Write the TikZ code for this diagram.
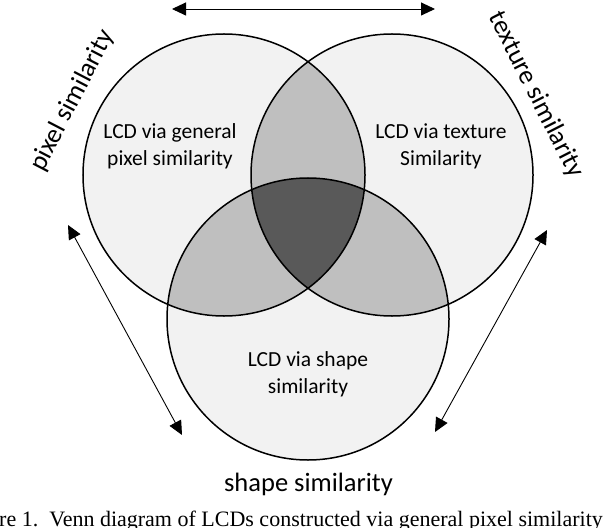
\documentclass[tikz,border=0pt]{standalone}
\usepackage{fontspec}
\setmainfont{Carlito}
\newfontfamily\capfont{Liberation Serif}
\usetikzlibrary{arrows.meta}
\definecolor{vlight}{HTML}{F2F2F2}
\definecolor{vmid}{HTML}{BFBFBF}
\definecolor{vdark}{HTML}{595959}
\begin{document}
\begin{tikzpicture}[x=1bp,y=-1bp,
  venn/.style={circle, minimum size=282bp, inner sep=0pt, draw=black, line width=1.5bp},
  inlabel/.style={align=center, inner sep=0pt, font=\fontsize{21.5bp}{27bp}\selectfont},
  outlabel/.style={inner sep=0pt, font=\fontsize{26.5bp}{30bp}\selectfont},
  dbl/.style={{Triangle[length=14bp,width=13bp]}-{Triangle[length=14bp,width=13bp]}, line width=0.9bp}]
\clip (0,0) rectangle (612,528);
\coordinate (cL) at (224,175);
\coordinate (cR) at (392,175);
\coordinate (cB) at (308,319);
% base fills
\fill[vlight] (cL) circle[radius=141bp];
\fill[vlight] (cR) circle[radius=141bp];
\fill[vlight] (cB) circle[radius=141bp];
% pairwise
\begin{scope}
  \clip (cL) circle[radius=141bp];
  \fill[vmid] (cR) circle[radius=141bp];
  \fill[vmid] (cB) circle[radius=141bp];
\end{scope}
\begin{scope}
  \clip (cR) circle[radius=141bp];
  \fill[vmid] (cB) circle[radius=141bp];
\end{scope}
% triple
\begin{scope}
  \clip (cL) circle[radius=141bp];
  \clip (cR) circle[radius=141bp];
  \fill[vdark] (cB) circle[radius=141bp];
\end{scope}
% outlines
\node[venn] (L) at (cL) {};
\node[venn] (R) at (cR) {};
\node[venn] (B) at (cB) {};
% inner labels
\node[inlabel] (tL) at (170,146) {LCD via general\\pixel similarity};
\node[inlabel] (tR) at (441,146) {LCD via texture\\Similarity};
\node[inlabel] (tB) at (308,374) {LCD via shape\\similarity};
% outer labels
\node[outlabel, rotate=62.6] (oL) at (72.5,100.5) {pixel similarity};
\node[outlabel, rotate=-63] (oR) at (536,95) {texture similarity};
\node[outlabel] (oB) at (308.5,484.5) {shape similarity};
% arrows
\coordinate (t1) at (172,9);
\coordinate (t2) at (435,9);
\coordinate (l1) at (68,225);
\coordinate (l2) at (182,435);
\coordinate (r1) at (547,230);
\coordinate (r2) at (435,432);
\draw[dbl] (t1) -- (t2);
\draw[dbl] (l1) -- (l2);
\draw[dbl] (r1) -- (r2);
% caption
\node[anchor=base west, inner sep=0pt, font=\capfont\fontsize{22bp}{26bp}\selectfont] (cap) at (-1,526.5) {re 1.\ \ Venn diagram of LCDs constructed via general pixel similarity};
\end{tikzpicture}
\end{document}
